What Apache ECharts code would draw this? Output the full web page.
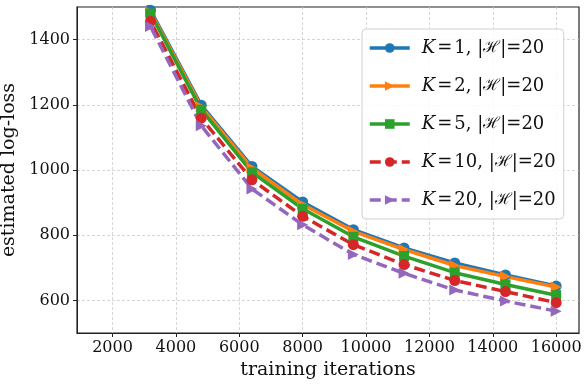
<!DOCTYPE html>
<html>
<head>
<meta charset="utf-8">
<script src="https://cdn.jsdelivr.net/npm/echarts@6/dist/echarts.min.js"></script>
<style>
  html, body { margin: 0; padding: 0; background: #fff; }
  #chart { width: 588px; height: 386px; }
</style>
</head>
<body>
<div id="chart"></div>
<script>
// training iterations (first point sits above the y limit, like the original)
const iterations = [1600, 3200, 4800, 6400, 8000, 9600, 11200, 12800, 14400, 16000]
const k1 = [2900, 1490, 1199, 1011, 902, 817, 761, 715, 678, 644]
const k2 = [2880, 1485, 1194, 1006, 894, 812, 756, 707, 673, 641]
const k5 = [2850, 1480, 1185, 993, 881, 795, 736, 685, 649, 616]
const k10 = [2800, 1456, 1159, 970, 858, 771, 710, 661, 627, 593]
const k20 = [2750, 1440, 1136, 942, 832, 741, 683, 632, 598, 567]
const xTicks = [2000, 4000, 6000, 8000, 10000, 12000, 14000, 16000]
const yTicks = [600, 800, 1000, 1200, 1400]

const serif = 'DejaVu Serif'
const pair = vals => iterations.map((x, i) => [x, vals[i]])

function mkSeries(name, vals, color, symbol, rotate, dashed) {
  return {
    name: name,
    type: 'line',
    data: pair(vals),
    color: color,
    symbol: symbol,
    symbolRotate: rotate,
    symbolSize: symbol == 'rect' ? 10 : 11,
    showAllSymbol: true,
    clip: true,
    lineStyle: { width: 3.5, color: color, type: dashed ? [11, 5] : 'solid' },
    itemStyle: { color: color }
  }
}

const chart = echarts.init(document.getElementById('chart'), null, { renderer: 'canvas' })
chart.setOption({
  animation: false,
  grid: {
    left: 77, right: 9, top: 7, bottom: 53, outerBoundsMode: 'none', containLabel: false,
    show: true, borderColor: '#222', borderWidth: 1.2
  },
  xAxis: {
    type: 'value', min: 880, max: 16720,
    name: 'training iterations', nameLocation: 'middle', nameGap: 28,
    nameTextStyle: { fontFamily: serif, fontSize: 19, color: '#111' },
    axisLine: { show: true, onZero: false, lineStyle: { color: '#222' } },
    axisTick: { show: true, customValues: xTicks, length: 4, lineStyle: { color: '#222' } },
    axisLabel: { customValues: xTicks, formatter: v => String(v), fontFamily: serif, fontSize: 16, color: '#111', margin: 7 },
    splitLine: { show: true, lineStyle: { color: '#ccc', type: [3, 2], width: 0.8 } }
  },
  yAxis: {
    type: 'value', min: 500, max: 1500,
    name: 'estimated log-loss', nameLocation: 'middle', nameGap: 43,
    nameTextStyle: { fontFamily: serif, fontSize: 19, color: '#111' },
    axisLine: { show: true, lineStyle: { color: '#222' } },
    axisTick: { show: true, customValues: yTicks, length: 4, lineStyle: { color: '#222' } },
    axisLabel: { customValues: yTicks, formatter: v => String(v), fontFamily: serif, fontSize: 16, color: '#111', margin: 7 },
    splitLine: { show: true, lineStyle: { color: '#ccc', type: [3, 2], width: 0.8 } }
  },
  legend: {
    left: 362, top: 29, orient: 'vertical',
    itemWidth: 40, itemHeight: 12, itemGap: 20,
    padding: [10, 8, 10, 6],
    backgroundColor: 'rgba(255,255,255,0.85)',
    borderColor: '#d0d0d0', borderWidth: 1, borderRadius: 4,
    lineStyle: { width: 3.5 },
    formatter: name => {
      const m = name.match(/K=(\d+)/)
      return '{i|K}{e|=}{t|' + m[1] + ', |}{h|ℋ}{t||=20}'
    },
    textStyle: {
      padding: [0, 0, 0, 7],
      rich: {
        i: { fontFamily: serif, fontStyle: 'italic', fontSize: 18, color: '#111' },
        e: { fontFamily: serif, fontSize: 18, color: '#111', padding: [0, 2, 0, 2] },
        t: { fontFamily: serif, fontSize: 18, color: '#111' },
        h: { fontFamily: serif, fontSize: 16, color: '#111' }
      }
    }
  },
  series: [
    mkSeries('K=1', k1, '#1f77b4', 'circle', 0, false),
    mkSeries('K=2', k2, '#ff7f0e', 'triangle', -90, false),
    mkSeries('K=5', k5, '#2ca02c', 'rect', 0, false),
    mkSeries('K=10', k10, '#d62728', 'circle', 0, true),
    mkSeries('K=20', k20, '#9467bd', 'triangle', -90, true)
  ]
})
</script>
</body>
</html>
